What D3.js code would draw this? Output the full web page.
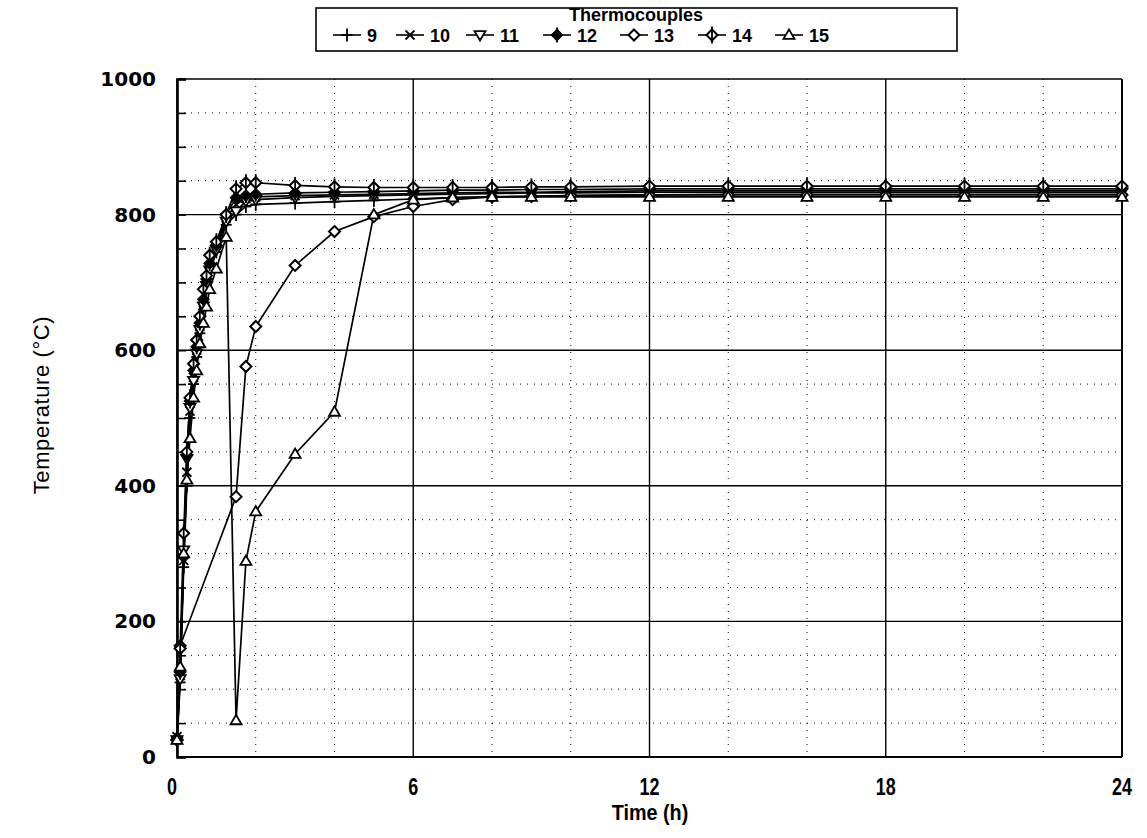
<!DOCTYPE html>
<html>
<head>
<meta charset="utf-8">
<script src="https://cdn.jsdelivr.net/npm/d3@7/dist/d3.min.js"></script>
<style>
  html, body { margin: 0; padding: 0; background: #fff; }
  svg { display: block; }
  text { fill: #000; }
</style>
</head>
<body>
<svg id="chart" width="1147" height="838"></svg>
<script>
// Sample times (h) shared by every thermocouple record
const hours = [0, 0.08, 0.17, 0.25, 0.33, 0.42, 0.5, 0.58, 0.67, 0.75, 0.83, 1.0, 1.25, 1.5, 1.75, 2, 3, 4, 5, 6, 7, 8, 9, 10, 12, 14, 16, 18, 20, 22, 24];

// Temperatures (°C); null = no reading at that time
const tc9  = [20, 110, 280, 400, 500, 550, 590, 625, 660, 690, 715, 745, 785, 800, 812, 815, 817, 819, 821, 823, 825, 826, 827, 828, 829, 830, 830, 830, 830, 830, 830];
const tc10 = [30, 120, 290, 420, 510, 560, 600, 635, 670, 700, 720, 750, 795, 815, 824, 826, 828, 829, 830, 831, 832, 833, 833, 834, 835, 835, 835, 835, 835, 835, 835];
const tc11 = [25, 115, 305, 440, 515, 555, 595, 630, 665, 695, 718, 748, 790, 805, 820, 822, 825, 827, 828, 829, 830, 831, 832, 832, 833, 833, 833, 833, 833, 833, 833];
const tc12 = [28, 125, 295, 445, 525, 570, 605, 640, 675, 705, 728, 755, 800, 825, 828, 830, 832, 833, 834, 835, 836, 836, 837, 837, 838, 838, 838, 838, 838, 838, 838];
const tc13 = [25, 164, null, null, null, null, null, null, null, null, null, null, null, 384, 576, 635, 725, 775, 797, 812, 822, 826, 827, 828, 829, 829, 829, 829, 829, 829, 829];
const tc14 = [25, 160, 330, 450, 530, 580, 615, 650, 690, 710, 740, 760, 800, 838, 847, 847, 843, 841, 840, 840, 840, 840, 841, 841, 842, 842, 842, 842, 842, 842, 842];
const tc15 = [25, 133, 300, 409, 470, 530, 570, 610, 640, 664, 690, 720, 767, 54, 289, 362, 447, 509, 800, 822, 825, 826, 826, 826, 826, 826, 826, 826, 826, 826, 826];

const seriesNames = ["9", "10", "11", "12", "13", "14", "15"];
const seriesValues = [tc9, tc10, tc11, tc12, tc13, tc14, tc15];
const seriesMarkers = ["plus", "cross", "triDown", "diamondFilled", "diamond", "diamondBar", "triUp"];

const xTicks = [0, 6, 12, 18, 24];
const yTicks = [0, 200, 400, 600, 800, 1000];
const xMinor = d3.range(0, 25, 2);
const yMinor = d3.range(0, 1001, 50);

const svg = d3.select("#chart");
const plot = { left: 177, top: 79, right: 1122, bottom: 757 };

const x = d3.scaleLinear().domain([0, 24]).range([plot.left, plot.right]);
const y = d3.scaleLinear().domain([0, 1000]).range([plot.bottom, plot.top]);

// Minor dotted grid
const g = svg.append("g");
g.selectAll(".vminor").data(xMinor.filter(v => v % 6 !== 0)).join("line")
  .attr("x1", d => x(d)).attr("x2", d => x(d))
  .attr("y1", plot.top).attr("y2", plot.bottom)
  .attr("stroke", "#000").attr("stroke-width", 1).attr("stroke-dasharray", "1,6");
g.selectAll(".hminor").data(yMinor.filter(v => v % 200 !== 0)).join("line")
  .attr("x1", plot.left).attr("x2", plot.right)
  .attr("y1", d => y(d)).attr("y2", d => y(d))
  .attr("stroke", "#000").attr("stroke-width", 1).attr("stroke-dasharray", "1,6");

// Major solid grid
g.selectAll(".vmajor").data(xTicks).join("line")
  .attr("x1", d => x(d)).attr("x2", d => x(d))
  .attr("y1", plot.top).attr("y2", plot.bottom)
  .attr("stroke", "#000").attr("stroke-width", 1.4);
g.selectAll(".hmajor").data(yTicks).join("line")
  .attr("x1", plot.left).attr("x2", plot.right)
  .attr("y1", d => y(d)).attr("y2", d => y(d))
  .attr("stroke", "#000").attr("stroke-width", 1.4);

// Left axis with minor ticks every 50 °C
const yAxis = d3.axisLeft(y).tickValues(yMinor).tickSize(-9).tickFormat("");
const ya = svg.append("g").attr("transform", `translate(${plot.left},0)`).call(yAxis);
ya.select(".domain").attr("stroke-width", 2.6);
ya.selectAll(".tick line").attr("stroke-width", 1.6);

// Bottom and right frame lines
svg.append("line").attr("x1", plot.left).attr("x2", plot.right)
  .attr("y1", plot.bottom).attr("y2", plot.bottom)
  .attr("stroke", "#000").attr("stroke-width", 2.2);
svg.append("line").attr("x1", plot.right).attr("x2", plot.right)
  .attr("y1", plot.top).attr("y2", plot.bottom)
  .attr("stroke", "#000").attr("stroke-width", 2);

// Tick labels
svg.append("g").selectAll("text").data(yTicks).join("text")
  .attr("x", 156).attr("y", d => y(d) + 7)
  .attr("text-anchor", "end")
  .attr("font-family", "'DejaVu Sans', sans-serif")
  .attr("font-size", 20).attr("font-weight", "bold")
  .text(d => d);
svg.append("g").selectAll("text").data(xTicks).join("text")
  .attr("transform", d => `translate(${x(d) - (d === 0 ? 5 : 0)},795) scale(0.78,1)`)
  .attr("text-anchor", "middle")
  .attr("font-family", "'Liberation Sans', sans-serif")
  .attr("font-size", 23).attr("font-weight", "bold")
  .text(d => d);

// Axis titles
svg.append("text").attr("transform", "translate(650,820) scale(0.9,1)").attr("text-anchor", "middle")
  .attr("font-family", "'Liberation Sans', sans-serif")
  .attr("font-size", 22).attr("font-weight", "bold")
  .text("Time  (h)");
svg.append("text").attr("transform", "translate(49,405) rotate(-90)").attr("text-anchor", "middle")
  .attr("font-family", "'Liberation Sans', sans-serif")
  .attr("font-size", 22).attr("letter-spacing", 0.6)
  .text("Temperature  (°C)");

// Marker shapes
function drawMarker(sel, type, cx, cy) {
  const s = 5.5;
  const m = sel.append("g").attr("transform", `translate(${cx},${cy})`);
  const ln = (x1, y1, x2, y2) => m.append("line").attr("x1", x1).attr("y1", y1).attr("x2", x2).attr("y2", y2)
    .attr("stroke", "#000").attr("stroke-width", 1.8);
  if (type === "plus") {
    ln(0, -s - 1, 0, s + 1); ln(-s, 0, s, 0);
  } else if (type === "cross") {
    ln(-s + 1, -s + 1, s - 1, s - 1); ln(-s + 1, s - 1, s - 1, -s + 1);
  } else if (type === "triDown") {
    m.append("path").attr("d", `M${-s},${-s * 0.7}L${s},${-s * 0.7}L0,${s}Z`)
      .attr("fill", "#fff").attr("stroke", "#000").attr("stroke-width", 1.8);
  } else if (type === "triUp") {
    m.append("path").attr("d", `M${-s},${s * 0.7}L${s},${s * 0.7}L0,${-s}Z`)
      .attr("fill", "#fff").attr("stroke", "#000").attr("stroke-width", 1.8);
  } else if (type === "diamond") {
    m.append("path").attr("d", `M0,${-s}L${s},0L0,${s}L${-s},0Z`)
      .attr("fill", "#fff").attr("stroke", "#000").attr("stroke-width", 2);
  } else if (type === "diamondFilled") {
    m.append("path").attr("d", `M0,${-s}L${s},0L0,${s}L${-s},0Z`)
      .attr("fill", "#000").attr("stroke", "#000").attr("stroke-width", 1.5);
    ln(0, -s - 2, 0, s + 2);
  } else if (type === "diamondBar") {
    m.append("path").attr("d", `M0,${-s}L${s},0L0,${s}L${-s},0Z`)
      .attr("fill", "#fff").attr("stroke", "#000").attr("stroke-width", 2);
    ln(0, -s - 3, 0, s + 3);
  }
}

// Thermocouple curves
const line = d3.line().x(d => x(d.t)).y(d => y(d.v));
const seriesG = svg.append("g");
seriesValues.forEach((vals, i) => {
  const pts = hours.map((t, j) => ({ t, v: vals[j] })).filter(d => d.v !== null);
  seriesG.append("path").datum(pts).attr("d", line)
    .attr("fill", "none").attr("stroke", "#000").attr("stroke-width", 1.7);
});
seriesValues.forEach((vals, i) => {
  const pts = hours.map((t, j) => ({ t, v: vals[j] })).filter(d => d.v !== null);
  const mg = seriesG.append("g");
  pts.forEach(d => drawMarker(mg, seriesMarkers[i], x(d.t), y(d.v)));
});

// Legend
const lg = svg.append("g");
lg.append("rect").attr("x", 316).attr("y", 8).attr("width", 641).attr("height", 43)
  .attr("fill", "#fff").attr("stroke", "#000").attr("stroke-width", 1.6);
lg.append("text").attr("x", 636).attr("y", 21).attr("text-anchor", "middle")
  .attr("font-family", "'Liberation Sans', sans-serif").attr("font-size", 18).attr("font-weight", "bold")
  .text("Thermocouples");
const legendX = [333, 396, 466, 543, 620, 698, 775];
seriesNames.forEach((name, i) => {
  const x0 = legendX[i];
  lg.append("line").attr("x1", x0).attr("x2", x0 + 28).attr("y1", 35).attr("y2", 35)
    .attr("stroke", "#000").attr("stroke-width", 1.6);
  drawMarker(lg, seriesMarkers[i], x0 + 14, 35);
  lg.append("text").attr("x", x0 + 34).attr("y", 42)
    .attr("font-family", "'Liberation Sans', sans-serif").attr("font-size", 18).attr("font-weight", "bold")
    .text(name);
});
</script>
</body>
</html>
